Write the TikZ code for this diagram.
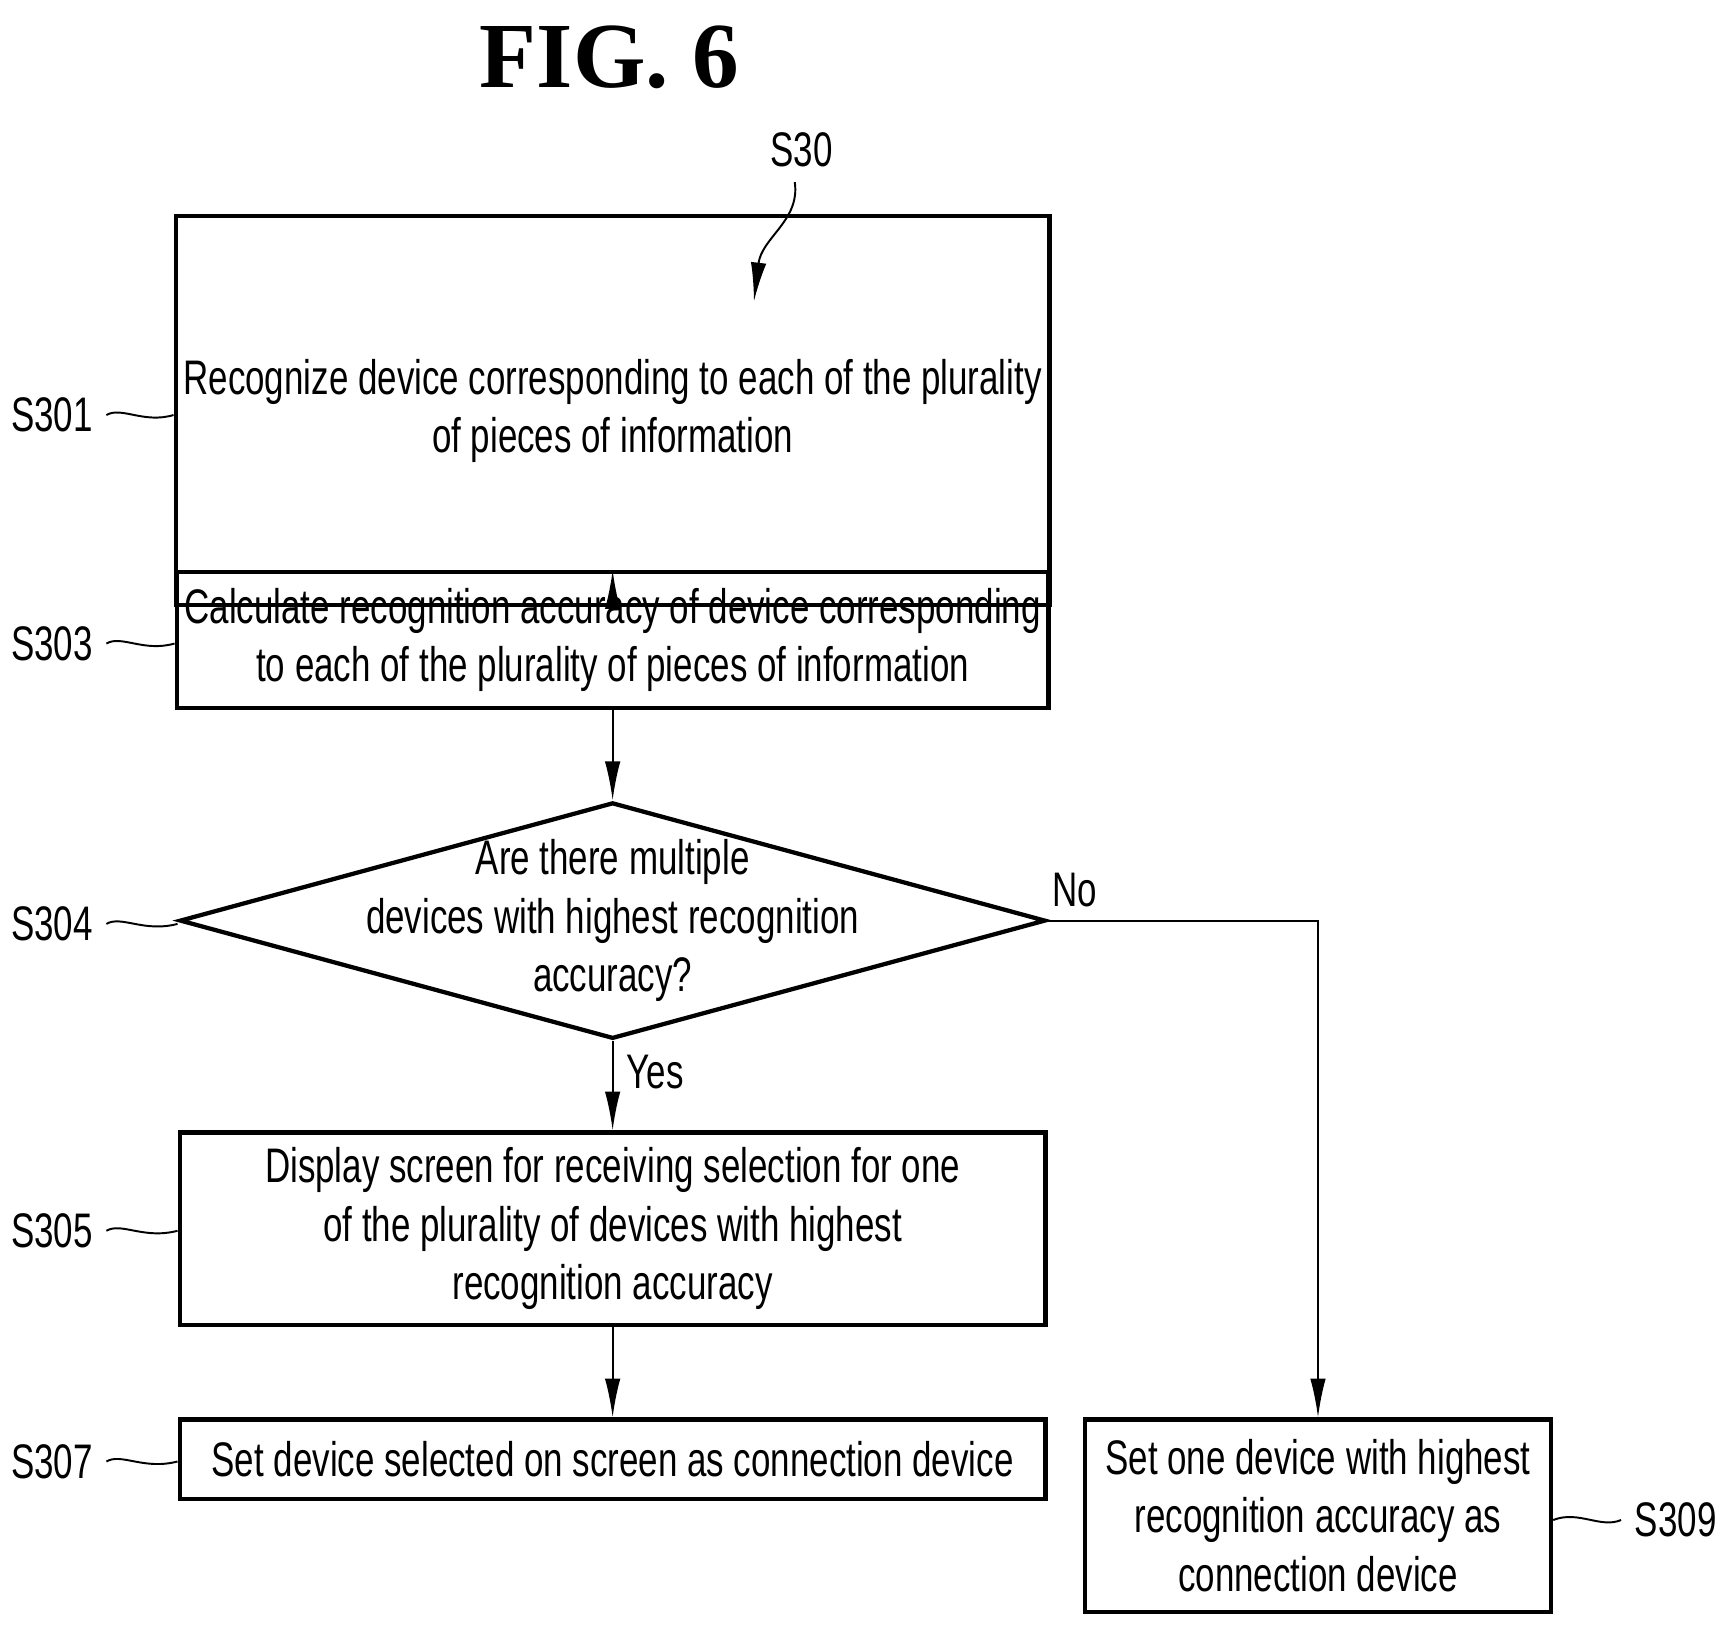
\documentclass[tikz,border=0pt]{standalone}
\usepackage{fontspec}
\setmainfont{Liberation Sans}[FakeStretch=0.72]
\newfontfamily\figfont{Liberation Serif}
\usetikzlibrary{shapes.geometric,arrows.meta,decorations.pathmorphing}
\begin{document}
\begin{tikzpicture}[x=0.01cm,y=-0.01cm,
 box/.style={draw,line width=1.1pt,minimum height=#1,align=center,font=\fontsize{12.5}{15}\selectfont,inner sep=2pt},
 arr/.style={-{Latex[length=10pt,width=4pt]},line width=0.5pt},
 lab/.style={font=\fontsize{12.5}{15}\selectfont},
 tl/.style={line width=0.5pt}]
\useasboundingbox (0,0) rectangle (1560,1473);
\node[font=\figfont\bfseries\fontsize{24}{28}\selectfont] (fig) at (552,52) {FIG. 6};
\node[lab] (s30) at (726,136) {S30};
\coordinate (s30a) at (720,165);
\coordinate (s30b) at (683,273);
\draw[arr] (s30a) .. controls (725,200) and (690,215) .. (s30b);
\node[box=124pt*0+3.52cm,minimum width=7.84cm] (a) at (555,372) {Recognize device corresponding to each of the plurality\\of pieces of information};
\node[box=1.23cm,minimum width=7.84cm] (b) at (555,580) {Calculate recognition accuracy of device corresponding\\to each of the plurality of pieces of information};
\node[draw,line width=1.1pt,diamond,aspect=3.66,minimum width=7.84cm,minimum height=2.14cm,inner sep=0pt] (c) at (555,834) {};
\node[align=center,font=\fontsize{12.5}{15}\selectfont] (ct) at (555,834) {Are there multiple\\devices with highest recognition\\accuracy?};
\node[box=1.74cm,minimum width=7.84cm] (d) at (555,1113) {Display screen for receiving selection for one\\of the plurality of devices with highest\\recognition accuracy};
\node[box=0.72cm,minimum width=7.84cm] (e) at (555,1322) {Set device selected on screen as connection device};
\node[box=1.74cm,minimum width=4.22cm] (f) at (1194,1373) {Set one device with highest\\recognition accuracy as\\connection device};
\draw[arr] (a) -- (b);
\draw[arr] (b) -- (c);
\draw[arr] (c) -- node[lab,right,pos=0.35]{Yes} (d);
\draw[arr] (d) -- (e);
\draw[arr] (c.east) -- node[lab,above,pos=0.1]{No} (c.east -| f.north) -- (f);
\foreach \n/\t/\yy in {a/S301/376,b/S303/583,c/S304/837,d/S305/1115,e/S307/1324}{
 \node[lab] (l\n) at (47,\yy) {\t};
 \draw[tl] (l\n.east) .. controls (110,\yy-8) and (130,\yy+8) .. (\n.west|-l\n.east);
}
\node[lab] (lf) at (1518,1377) {S309};
\draw[tl] (f.east|-lf.west) .. controls (1430,1368) and (1450,1385) .. (lf.west);
\end{tikzpicture}
\end{document}
